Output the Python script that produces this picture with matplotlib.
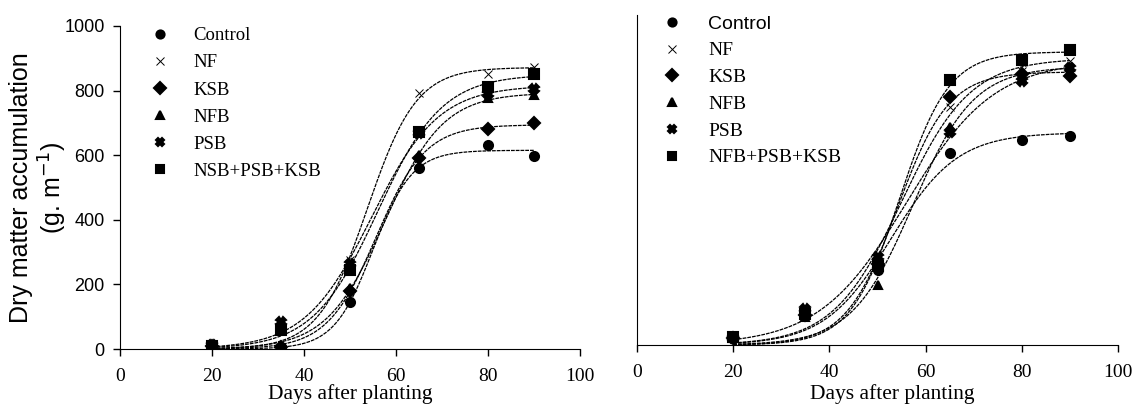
import numpy as np
import matplotlib
matplotlib.use('Agg')
import matplotlib.pyplot as plt
from matplotlib.lines import Line2D

days = [20, 35, 50, 65, 80, 90]

left_labels = ['Control', 'NF', 'KSB', 'NFB', 'PSB', 'NSB+PSB+KSB']
right_labels = ['Control', 'NF', 'KSB', 'NFB', 'PSB', 'NFB+PSB+KSB']

# dry matter (g m-1), left panel
left_control = [10, 5, 145, 560, 632, 598]
left_nf = [12, 70, 276, 792, 850, 874]
left_ksb = [10, 5, 180, 590, 680, 700]
left_nfb = [10, 8, 190, 600, 776, 785]
left_psb = [12, 85, 262, 670, 790, 804]
left_mix = [10, 60, 245, 673, 812, 850]

# right panel
right_control = [20, 95, 227, 581, 621, 633]
right_nf = [20, 100, 260, 720, 830, 862]
right_ksb = [20, 90, 245, 751, 820, 815]
right_nfb = [20, 85, 182, 662, 810, 843]
right_psb = [20, 110, 268, 646, 800, 839]
right_mix = [25, 95, 240, 803, 863, 894]

markers = ['o', 'x', 'D', '^', 'X', 's']
msizes = [6.5, 6, 6.5, 6, 6.5, 7]


def fit_logistic(x, y):
    # least squares logistic fit y = a / (1 + exp(-k (x - x0)))
    x = np.asarray(x, float)
    y = np.asarray(y, float)
    x0s = np.linspace(40, 70, 301)[:, None, None]
    ks = np.linspace(0.05, 0.6, 221)[None, :, None]
    f = 1.0 / (1.0 + np.exp(-ks * (x - x0s)))
    a = (f * y).sum(-1) / (f * f).sum(-1)
    sse = ((a[..., None] * f - y) ** 2).sum(-1)
    i, j = np.unravel_index(np.argmin(sse), sse.shape)
    return a[i, j], ks[0, j, 0], x0s[i, 0, 0]


def draw(ax, series, labels, legend_pos, legend_size, textpad, spacing, ctrl_sans):
    xs = np.linspace(20, 90, 300)
    for y, m, ms in zip(series, markers, msizes):
        a, k, x0 = fit_logistic(days, y)
        ax.plot(xs, a / (1 + np.exp(-k * (xs - x0))), color='black', lw=0.9,
                dashes=(3, 0.8), zorder=2)
        mew = 0.7 if m == 'x' else 1.5
        ax.plot(days, y, linestyle='none', marker=m, ms=ms, color='black',
                mew=mew, zorder=3)
    handles = [Line2D([], [], linestyle='none', marker=m, ms=ms * 0.9, color='black',
                      mew=(0.7 if m == 'x' else 1.5)) for m, ms in zip(markers, msizes)]
    leg = ax.legend(handles, labels, loc='upper left', bbox_to_anchor=legend_pos,
                    frameon=False, handlelength=1, handletextpad=textpad,
                    labelspacing=spacing, borderpad=0, borderaxespad=0,
                    prop={'family': 'Liberation Serif', 'size': legend_size})
    if ctrl_sans:
        leg.get_texts()[0].set_family('Liberation Sans')
    ax.set_xlim(0, 100)
    ax.set_ylim(0, 1000)
    ax.set_xticks([0, 20, 40, 60, 80, 100])
    ax.spines['top'].set_visible(False)
    ax.spines['right'].set_visible(False)
    ax.tick_params(axis='x', direction='out', length=5, width=1, pad=9)
    for t in ax.get_xticklabels():
        t.set_family('Liberation Serif')
        t.set_fontsize(14)
    ax.set_xlabel('Days after planting', family='Liberation Serif', fontsize=15.5,
                  va='top')


fig = plt.figure(figsize=(11.35, 4.07), dpi=100)
ax1 = fig.add_axes([120 / 1135, 58 / 407, 460 / 1135, 323 / 407])
ax2 = fig.add_axes([637 / 1135, 62 / 407, 481 / 1135, 330 / 407])

draw(ax1, [left_control, left_nf, left_ksb, left_nfb, left_psb, left_mix],
     left_labels, (0.067, 0.996), 13.5, 1.28, 0.53, False)
draw(ax2, [right_control, right_nf, right_ksb, right_nfb, right_psb, right_mix],
     right_labels, (0.053, 1.0), 14, 1.35, 0.47, True)

ax1.set_yticks([0, 200, 400, 600, 800, 1000])
ax1.tick_params(axis='y', direction='out', length=5, width=1, pad=6, labelsize=13)
for t in ax1.get_yticklabels():
    t.set_family('Liberation Sans')
ax1.set_ylabel('Dry matter accumulation\n(g. m$^{-1}$)', family='Liberation Sans',
               fontsize=18, linespacing=1.15)
ax1.yaxis.set_label_coords(-0.11, 0.5)
ax1.xaxis.set_label_coords(0.5, -0.11)

ax2.set_yticks([])
ax2.xaxis.set_label_coords(0.53, -0.118)

fig.savefig('out.png', dpi=100)
